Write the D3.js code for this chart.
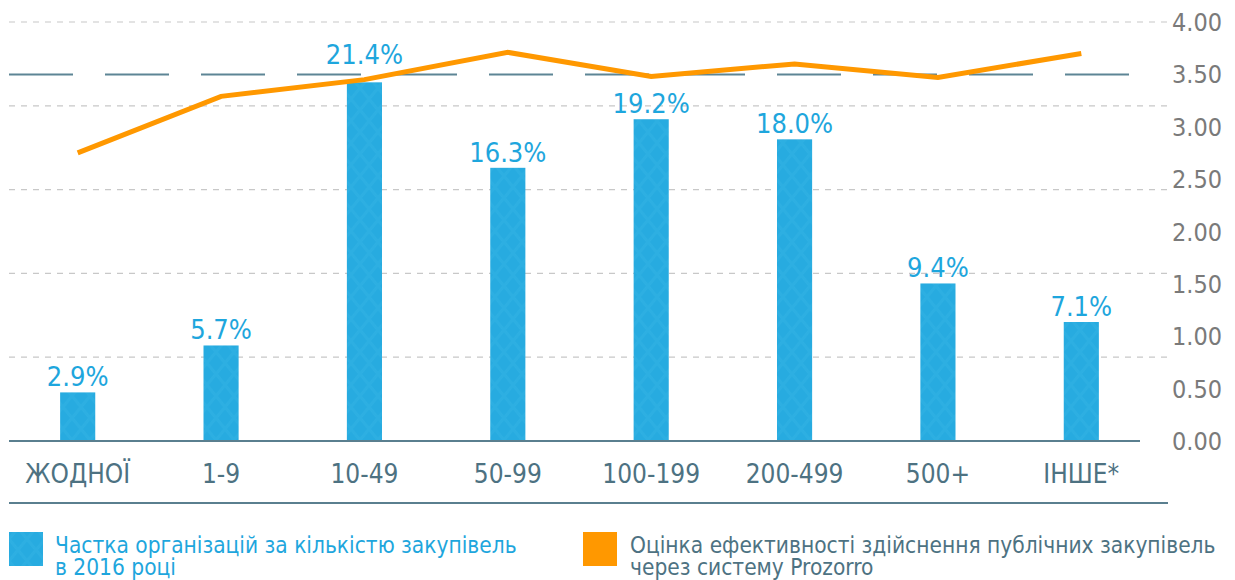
<!DOCTYPE html>
<html lang="uk">
  <head>
    <meta charset='utf-8'>
    <script src='https://d3js.org/d3.v7.min.js'></script>
    <title>Prozorro chart</title>
    <style>
      body { margin: 0px; background: #fff; }
      text { font-family: 'Liberation Sans Narrow', 'DejaVu Sans Condensed', Roboto, sans-serif; }
      .right-tick { fill: #7a7a7a; font-size: 25px; }
      .x-label { fill: #4d7282; font-size: 26px; }
      .bar-label { fill: #1ea6dd; font-size: 27px; }
      .legend-blue { fill: #1ea6dd; font-size: 22.5px; }
      .legend-grey { fill: #4d7282; font-size: 22.5px; }
    </style>
  </head>
  <body>
    <svg id='chart' width='1235' height='580'></svg>
    <script>
      // data
      const categories = ['ЖОДНОЇ', '1-9', '10-49', '50-99', '100-199', '200-499', '500+', 'ІНШЕ*'];
      const shares = [2.9, 5.7, 21.4, 16.3, 19.2, 18.0, 9.4, 7.1];
      const scores = [2.75, 3.29, 3.45, 3.71, 3.48, 3.60, 3.47, 3.70];
      const rightTicks = [0, 0.5, 1, 1.5, 2, 2.5, 3, 3.5, 4];
      const shareGrid = [5, 10, 15, 20, 25];
      const referenceScore = 3.5;
      const legendBlue = ['Частка організацій за кількістю закупівель', 'в 2016 році'];
      const legendOrange = ['Оцінка ефективності здійснення публічних закупівель', 'через систему Prozorro'];

      const svg = d3.select('#chart');
      const plotLeft = 9, plotRight = 1168, plotTop = 22, base = 441;

      // diamond texture for bars
      const defs = svg.append('defs');
      const pat = defs.append('pattern')
        .attr('id', 'diam')
        .attr('patternUnits', 'userSpaceOnUse')
        .attr('width', 36).attr('height', 44);
      pat.append('rect').attr('width', 36).attr('height', 44).attr('fill', '#27abe0');
      pat.append('path')
        .attr('d', 'M0,0 L18,22 L0,44 M36,0 L18,22 L36,44 M0,22 L18,0 L36,22 L18,44 Z')
        .attr('fill', 'none')
        .attr('stroke', '#3ab6e5')
        .attr('stroke-width', 3)
        .attr('opacity', 0.35);

      const x = d3.scaleBand()
        .domain(categories)
        .range([6, 1153])
        .paddingInner(0.755)
        .paddingOuter(0.3775);

      const yShare = d3.scaleLinear().domain([0, 25]).range([base, plotTop]);
      const yScore = d3.scaleLinear().domain([0, 4]).range([base, plotTop]);

      // gridlines
      svg.append('g').selectAll('line')
        .data(shareGrid)
        .join('line')
        .attr('x1', plotLeft).attr('x2', plotRight)
        .attr('y1', d => yShare(d)).attr('y2', d => yShare(d))
        .attr('stroke', '#c8c8c8')
        .attr('stroke-width', 1.2)
        .attr('stroke-dasharray', '6,6');

      // right axis labels
      svg.append('g').selectAll('text')
        .data(rightTicks)
        .join('text')
        .attr('class', 'right-tick')
        .attr('x', 1172)
        .attr('y', d => yScore(d))
        .attr('dy', '0.36em')
        .text(d => d3.format('.2f')(d));

      // bars
      svg.append('g').selectAll('rect')
        .data(shares)
        .join('rect')
        .attr('x', (d, i) => x(categories[i]))
        .attr('width', x.bandwidth())
        .attr('y', d => yShare(d))
        .attr('height', d => base - yShare(d))
        .attr('fill', 'url(#diam)');

      // bar labels (the tallest one sits higher, clear of the line)
      const maxShare = d3.max(shares);
      svg.append('g').selectAll('text')
        .data(shares)
        .join('text')
        .attr('class', 'bar-label')
        .attr('x', (d, i) => x(categories[i]) + x.bandwidth() / 2)
        .attr('y', d => yShare(d) - (d === maxShare ? 18 : 6))
        .attr('text-anchor', 'middle')
        .text(d => d3.format('.1f')(d) + '%');

      // reference line at 3.5
      svg.append('line')
        .attr('x1', plotLeft).attr('x2', 1130)
        .attr('y1', yScore(referenceScore)).attr('y2', yScore(referenceScore))
        .attr('stroke', '#5d8595')
        .attr('stroke-width', 2)
        .attr('stroke-dasharray', '64,32');

      // baseline
      svg.append('line')
        .attr('x1', plotLeft).attr('x2', 1140)
        .attr('y1', base).attr('y2', base)
        .attr('stroke', '#5a7f8f')
        .attr('stroke-width', 2);

      // score line
      const line = d3.line()
        .x((d, i) => x(categories[i]) + x.bandwidth() / 2)
        .y(d => yScore(d));
      svg.append('path')
        .datum(scores)
        .attr('d', line)
        .attr('fill', 'none')
        .attr('stroke', '#ff9800')
        .attr('stroke-width', 5);

      // category labels
      svg.append('g').selectAll('text')
        .data(categories)
        .join('text')
        .attr('class', 'x-label')
        .attr('x', d => x(d) + x.bandwidth() / 2)
        .attr('y', 483)
        .attr('text-anchor', 'middle')
        .text(d => d);

      // bottom rule
      svg.append('line')
        .attr('x1', plotLeft).attr('x2', plotRight)
        .attr('y1', 503).attr('y2', 503)
        .attr('stroke', '#5a7f8f')
        .attr('stroke-width', 2);

      // legend
      svg.append('rect').attr('x', 9).attr('y', 532).attr('width', 34).attr('height', 34).attr('fill', 'url(#diam)');
      svg.append('text').attr('class', 'legend-blue').attr('x', 55).attr('y', 553)
        .selectAll('tspan').data(legendBlue).join('tspan')
        .attr('x', 55).attr('dy', (d, i) => i ? 22 : 0).text(d => d);

      svg.append('rect').attr('x', 583).attr('y', 532).attr('width', 34).attr('height', 34).attr('fill', '#ff9800');
      svg.append('text').attr('class', 'legend-grey').attr('x', 630).attr('y', 553)
        .selectAll('tspan').data(legendOrange).join('tspan')
        .attr('x', 630).attr('dy', (d, i) => i ? 22 : 0).text(d => d);
    </script>
  </body>
</html>
